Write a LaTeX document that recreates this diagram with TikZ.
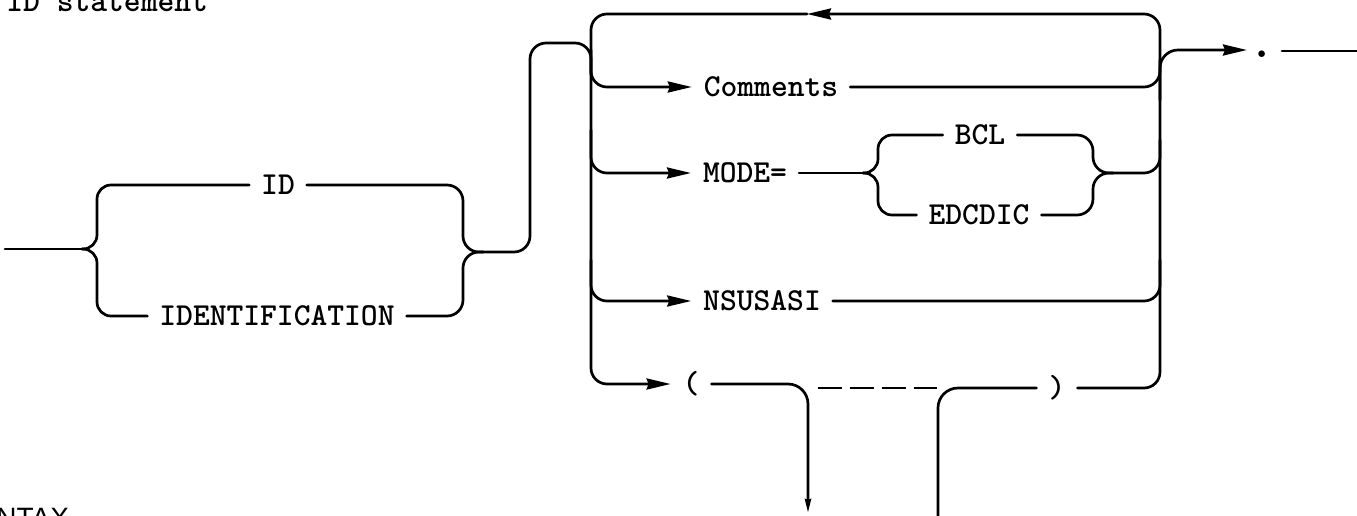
\documentclass[tikz,border=0pt]{standalone}
\usepackage{fontspec}
\newfontfamily\labelsans{Liberation Sans}
\usetikzlibrary{arrows.meta}
% heavier typewriter face, like a ribbon impression
\newcommand\typerfont{\ttfamily\bfseries\fontsize{16pt}{18pt}\selectfont}
\tikzset{
  rail/.style={line width=1.35pt, rounded corners=8pt, line cap=round, line join=round},
  kw/.style={font=\typerfont, inner sep=0pt,
             text height=9.8pt, text depth=0pt, outer xsep=6pt},
  fwd/.style={-{Stealth[length=12pt,width=5.5pt,inset=1pt]}},
  smallfwd/.style={-{Stealth[length=7pt,width=3pt,inset=0.5pt]}},
}
\begin{document}
\begin{tikzpicture}[x=0.5pt, y=-0.5pt]
\useasboundingbox (0,0) rectangle (1357,515);
\begin{scope}
\clip (0,0) rectangle (1357,515);

% headings
\node[font=\typerfont, inner sep=0pt, anchor=base west]
  (title) at (6,11) {ID statement};
\node[font=\labelsans\fontsize{14pt}{16pt}\selectfont, inner sep=0pt, anchor=north west]
  (syntax) at (-4,508) {NTAX};

% keywords
\node[kw] (id)   at (278,185) {ID};
\node[kw] (idn)  at (277,316) {IDENTIFICATION};
\node[kw] (cm)   at (771,87)  {Comments};
\node[kw] (md)   at (745,173) {MODE=};
\node[kw] (bcl)  at (980,135) {BCL};
\node[kw] (ed)   at (979,215) {EDCDIC};
\node[kw] (ns)   at (762,301) {NSUSASI};
\node[kw] (pl)   at (691,384) {(};
\node[kw] (pr)   at (1057,388) {)};
\node[font=\ttfamily\bfseries\fontsize{24pt}{26pt}\selectfont,
      inner sep=0pt, anchor=base] (dot) at (1262,57) {.};

% junction points
\coordinate (entry) at (5,249);
\coordinate (L)     at (82,249);
\coordinate (R)     at (483,252);
\coordinate (Mt)    at (863,173);
\coordinate (Mr)    at (1113,173);
\coordinate (looptip) at (807,14);
\coordinate (exittip) at (1247,50);
\coordinate (exitA) at (1282,51);
\coordinate (exitB) at (1357,51);
\coordinate (downtip) at (808,513);
\coordinate (upstart) at (938,530);
\coordinate (dashA) at (818,388);
\coordinate (dashB) at (937,388);

% ID / IDENTIFICATION choice
\draw[rail] (entry) -- (L);
\draw[rail, rounded corners=7pt] (L) -- (97,249) |- (id.west);
\draw[rail, rounded corners=7pt] (L) -- (97,249) |- (idn.west);
\draw[rail] (id.east) -| (463,252) -- (R);
\draw[rail] (idn.east) -| (463,252) -- (R);
\draw[rail] (R) -| (530,43) -| (591,75);

% repeat loop and right trunk
\draw[rail, fwd] (pr.east) -| (1160,14) -- (looptip);
\draw[rail, fwd] (looptip) -| (591,200) |- (pl.west);

% Comments
\draw[rail, fwd] (591,50) |- (cm.west);
\draw[rail] (cm.east) -| (1160,60);

% MODE= BCL / EDCDIC
\draw[rail, fwd] (591,130) |- (md.west);
\draw[rail] (md.east) -- (Mt);
\draw[rail, rounded corners=7pt] (Mt) -- (878,173) |- (bcl.west);
\draw[rail, rounded corners=7pt] (Mt) -- (878,173) |- (ed.west);
\draw[rail] (bcl.east) -| (1093,173) -- (Mr);
\draw[rail] (ed.east) -| (1093,173) -- (Mr);
\draw[rail] (Mr) -| (1160,140);

% NSUSASI
\draw[rail, fwd] (591,260) |- (ns.west);
\draw[rail] (ns.east) -| (1160,260);

% parenthesised list
\draw[rail, smallfwd, rounded corners=10pt] (pl.east) -| (downtip);
\draw[rail, rounded corners=10pt] (upstart) |- (pr.west);
\draw[line width=1.35pt, dash pattern=on 12pt off 4pt] (dashA) -- (dashB);

% exit
\draw[rail, rounded corners=9pt, fwd] (1160,100) |- (exittip);
\draw[rail] (exitA) -- (exitB);
\end{scope}
\end{tikzpicture}
\end{document}
